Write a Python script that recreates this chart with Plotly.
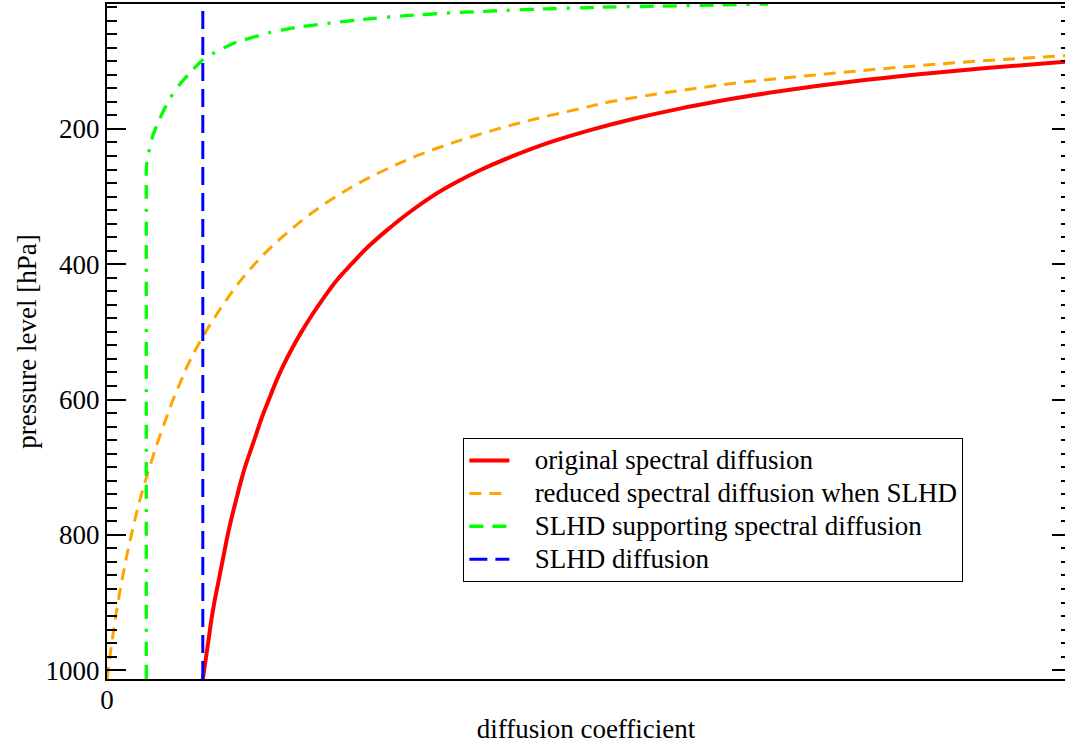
import plotly.graph_objects as go

# pressure levels [hPa] and diffusion coefficient (arbitrary units)
p_levels = [1013, 975, 950, 925, 900, 875, 850, 825, 800, 775, 750, 725, 700, 675, 650, 625, 600, 575, 550,
            525, 500, 475, 450, 425, 400, 375, 350, 325, 300, 280, 260, 240, 220, 200, 185, 170, 160, 150,
            140, 130, 120, 110, 100, 90]
k_red = [1.00, 1.04, 1.065, 1.09, 1.12, 1.155, 1.19, 1.225, 1.26, 1.30, 1.345, 1.39, 1.44, 1.50, 1.56, 1.62,
         1.69, 1.76, 1.84, 1.93, 2.03, 2.14, 2.26, 2.39, 2.55, 2.72, 2.92, 3.14, 3.39, 3.63, 3.91, 4.24, 4.62,
         5.09, 5.50, 5.98, 6.35, 6.76, 7.24, 7.78, 8.42, 9.18, 10.08, 11.2]
k_orange = [0.00, 0.035, 0.06, 0.085, 0.115, 0.145, 0.18, 0.215, 0.255, 0.295, 0.34, 0.39, 0.445, 0.50, 0.56,
            0.625, 0.69, 0.765, 0.84, 0.93, 1.03, 1.14, 1.26, 1.39, 1.54, 1.71, 1.91, 2.13, 2.39, 2.63, 2.91,
            3.23, 3.62, 4.08, 4.48, 4.94, 5.25, 5.67, 6.15, 6.70, 7.42, 8.18, 9.08, 10.2]

p_green = [1013, 600, 300, 260, 240, 228, 209, 179, 155, 135, 115, 98, 85, 73, 58, 50, 43.4, 38, 32.7,
           28.5, 25.3, 22.5, 20.3, 17.9, 15.4]
k_green = [0.41, 0.41, 0.41, 0.41, 0.425, 0.447, 0.48, 0.57, 0.655, 0.755, 0.88, 1.0, 1.15, 1.33, 1.69, 1.98,
           2.34, 2.68, 3.12, 3.60, 4.08, 4.60, 5.12, 6.00, 6.90]

p_blue = [1013, 15.4]
k_blue = [1.0, 1.0]

names = ["original spectral diffusion", "reduced spectral diffusion when SLHD",
         "SLHD supporting spectral diffusion", "SLHD diffusion"]

y_ticks = [200, 400, 600, 800, 1000]
x_ticks = [0]
x_ticklabels = ["0"]

FONT = "Liberation Serif, Times New Roman, serif"
FS = 27
PAD = "\u00a0\u00a0\u00a0"


def lname(s):
    return "<span style='font-size:27px'>" + PAD + s + "</span>"


fig = go.Figure()
fig.add_trace(go.Scatter(x=k_red, y=p_levels, mode="lines", name=lname(names[0]),
                         line=dict(color="#ff0000", width=4, shape="spline", smoothing=1)))
fig.add_trace(go.Scatter(x=k_orange, y=p_levels, mode="lines", name=lname(names[1]),
                         line=dict(color="#ffa500", width=3, dash="12px,8px", shape="spline", smoothing=1)))
fig.add_trace(go.Scatter(x=k_green, y=p_green, mode="lines", name=lname(names[2]),
                         line=dict(color="#00ff00", width=3.3, dash="14px,9px,14px,10px,3px,10px",
                                   shape="spline", smoothing=0.5)))
fig.add_trace(go.Scatter(x=k_blue, y=p_blue, mode="lines", name=lname(names[3]),
                         line=dict(color="#0000ff", width=3, dash="18px,8px")))
# dummy trace so the right-hand tick axis is drawn
fig.add_trace(go.Scatter(x=[None], y=[None], yaxis="y2", showlegend=False, hoverinfo="skip"))

fig.update_layout(
    width=1066, height=745,
    margin=dict(l=107, r=1, t=4, b=66),
    paper_bgcolor="white", plot_bgcolor="white",
    font=dict(family=FONT, size=FS, color="black"),
    showlegend=True,
    legend=dict(x=0.372, y=0.357, xanchor="left", yanchor="top",
                bordercolor="black", borderwidth=1, bgcolor="white",
                font=dict(family=FONT, size=23, color="black"),
                itemwidth=40, tracegroupgap=0),
    xaxis=dict(range=[0, 10], tickvals=x_ticks, ticktext=x_ticklabels, ticks="",
               showgrid=False, zeroline=False, showline=True, linecolor="black",
               linewidth=2, mirror=True, ticklabelstandoff=-4,
               title=dict(text="diffusion coefficient", font=dict(family=FONT, size=FS), standoff=5),
               tickfont=dict(family=FONT, size=FS)),
    yaxis=dict(range=[1013, 15.4], tickvals=y_ticks, ticks="inside", ticklen=19, tickwidth=2,
               tickcolor="black", showgrid=False, zeroline=False, showline=True,
               linecolor="black", linewidth=2,
               minor=dict(dtick=20, tick0=0, ticks="inside", ticklen=10, tickwidth=1.5, tickcolor="black"),
               title=dict(text="pressure level [hPa]", font=dict(family=FONT, size=FS), standoff=1),
               tickfont=dict(family=FONT, size=FS)),
    yaxis2=dict(range=[1013, 15.4], overlaying="y", side="right", tickvals=y_ticks,
                ticks="inside", ticklen=13, tickwidth=2, tickcolor="black",
                showticklabels=False, showgrid=False, zeroline=False, showline=False,
                minor=dict(dtick=20, tick0=0, ticks="inside", ticklen=4, tickwidth=2, tickcolor="black")),
)

fig.write_html("out.html")
